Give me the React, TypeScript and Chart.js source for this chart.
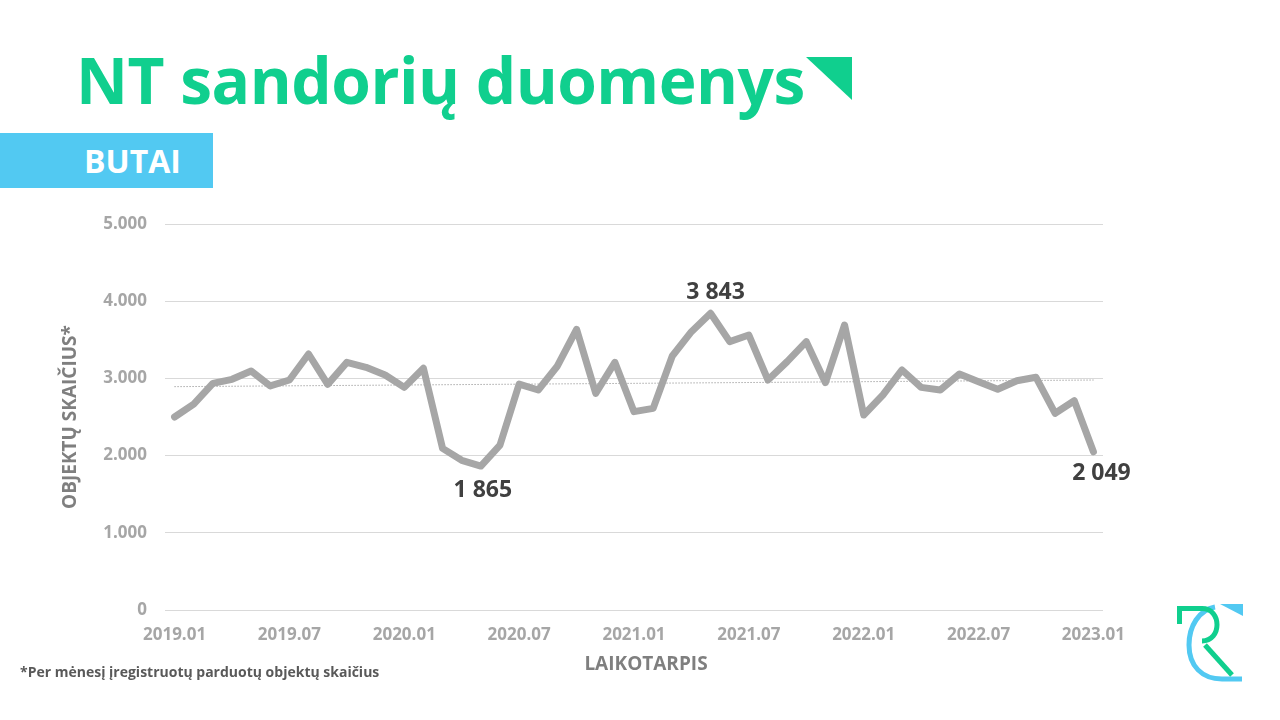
import React, { useEffect, useRef } from "react";
import { Chart, registerables } from "chart.js";

Chart.register(...registerables);

// ---- Data ----
const months: string[] = [
  "2019.01", "2019.02", "2019.03", "2019.04", "2019.05", "2019.06", "2019.07", "2019.08", "2019.09", "2019.10", "2019.11", "2019.12",
  "2020.01", "2020.02", "2020.03", "2020.04", "2020.05", "2020.06", "2020.07", "2020.08", "2020.09", "2020.10", "2020.11", "2020.12",
  "2021.01", "2021.02", "2021.03", "2021.04", "2021.05", "2021.06", "2021.07", "2021.08", "2021.09", "2021.10", "2021.11", "2021.12",
  "2022.01", "2022.02", "2022.03", "2022.04", "2022.05", "2022.06", "2022.07", "2022.08", "2022.09", "2022.10", "2022.11", "2022.12",
  "2023.01",
];

const butaiSandoriai: number[] = [
  2500, 2668, 2936, 2988, 3096, 2902, 2979, 3316, 2923, 3208, 3143, 3044,
  2884, 3131, 2094, 1939, 1865, 2137, 2927, 2850, 3161, 3636, 2807, 3208,
  2569, 2612, 3290, 3605, 3843, 3476, 3562, 2979, 3217, 3476, 2945, 3692,
  2526, 2785, 3109, 2884, 2850, 3057, 2957, 2859, 2970, 3014, 2548, 2711,
  2049,
];

// trend line end values
const trendStart = 2893;
const trendEnd = 2979;

// points that carry a value label
const labeledIdx: number[] = [16, 28, 48];

const yMin = 0;
const yMax = 5000;
const yStep = 1000;
const xTickEvery = 6;

// ---- Styles ----
const GREEN = "#10cf8e";
const BLUE = "#52c9f2";
const FONT = "'Open Sans', 'DejaVu Sans', sans-serif";

const labelDx = [2, 5, 8];
const labelDy = [24, -21, 22];

const dotThousands = (v: number) => String(v).replace(/\B(?=(\d{3})+(?!\d))/g, ".");
const spaceThousands = (v: number) => String(v).replace(/\B(?=(\d{3})+(?!\d))/g, " ");

const pointLabelPlugin = {
  id: "pointLabels",
  afterDatasetsDraw(chart: any) {
    const meta = chart.getDatasetMeta(0);
    const ctx = chart.ctx;
    ctx.save();
    ctx.font = `bold 23px ${FONT}`;
    ctx.fillStyle = "#404040";
    ctx.textAlign = "center";
    ctx.textBaseline = "middle";
    labeledIdx.forEach((idx, k) => {
      const p = meta.data[idx];
      if (!p) return;
      ctx.fillText(spaceThousands(butaiSandoriai[idx]), p.x + labelDx[k], p.y + labelDy[k]);
    });
    ctx.restore();
  },
};

function Logo() {
  return (
    <svg
      width={90}
      height={100}
      viewBox="1165 595 90 100"
      style={{ position: "absolute", left: 1165, top: 595 }}
    >
      {/* blue corner triangle */}
      <polygon points="1220,604 1243,604 1243,616" fill={BLUE} />
      {/* blue C */}
      <path
        d="M1215,607 C1199,610 1189,626 1189,645 C1189,666 1202,679 1222,679 L1242,679"
        fill="none"
        stroke={BLUE}
        strokeWidth={5}
      />
      {/* green R */}
      <path
        d="M1179.5,624 V608.5 H1202 C1222,608.5 1222,641 1202,641"
        fill="none"
        stroke={GREEN}
        strokeWidth={5}
      />
      <path d="M1205,645 L1232,675" fill="none" stroke={GREEN} strokeWidth={5} />
    </svg>
  );
}

export default function App() {
  const canvasRef = useRef<HTMLCanvasElement | null>(null);

  useEffect(() => {
    if (!canvasRef.current) return;
    const chart = new Chart(canvasRef.current, {
      type: "line",
      data: {
        labels: months,
        datasets: [
          {
            label: "Butai",
            data: butaiSandoriai,
            borderColor: "#a6a6a6",
            borderWidth: 7,
            borderJoinStyle: "round",
            borderCapStyle: "round",
            pointRadius: 0,
            tension: 0,
            fill: false,
            order: 1,
          },
          {
            label: "Trend",
            data: [
              { x: months[0], y: trendStart },
              { x: months[months.length - 1], y: trendEnd },
            ] as any,
            borderColor: "#7f7f7f",
            borderWidth: 1,
            borderDash: [1, 2],
            pointRadius: 0,
            fill: false,
            order: 2,
          },
        ],
      },
      options: {
        responsive: false,
        animation: false,
        layout: { padding: { left: 55, right: 177, top: 224, bottom: 40 } },
        plugins: {
          legend: { display: false },
          tooltip: { enabled: false },
        },
        scales: {
          x: {
            type: "category",
            offset: true,
            grid: { display: false, drawTicks: false },
            border: { display: false },
            ticks: {
              autoSkip: false,
              maxRotation: 0,
              padding: 15,
              color: "#a6a6a6",
              font: { family: FONT, size: 17, weight: "bold" },
              callback: (_v: any, i: number) => (i % xTickEvery === 0 ? months[i] : ""),
            },
            title: { display: false },
            afterFit: (s: any) => {
              s.height = 70;
            },
          },
          y: {
            min: yMin,
            max: yMax,
            ticks: {
              stepSize: yStep,
              padding: 18,
              color: "#a6a6a6",
              font: { family: FONT, size: 17, weight: "bold" },
              callback: (v: any) => dotThousands(Number(v)),
            },
            grid: { color: "#d9d9d9", lineWidth: 1, drawTicks: false },
            border: { display: false },
            title: {
              display: true,
              text: "OBJEKTŲ SKAIČIUS*",
              color: "#7f7f7f",
              font: { family: FONT, size: 19, weight: "bold" },
              padding: { top: 4, bottom: 0 },
            },
            afterFit: (s: any) => {
              s.width = 110;
            },
          },
        },
      },
      plugins: [pointLabelPlugin],
    } as any);
    return () => chart.destroy();
  }, []);

  return (
    <div
      style={{
        position: "fixed",
        left: 0,
        top: 0,
        width: 1280,
        height: 720,
        background: "#ffffff",
        overflow: "hidden",
        fontFamily: FONT,
      }}
    >
      <div
        style={{
          position: "absolute",
          left: 76,
          top: 48,
          fontSize: 64,
          lineHeight: "64px",
          fontWeight: 700,
          color: GREEN,
          whiteSpace: "nowrap",
          letterSpacing: -0.5,
        }}
      >
        NT sandorių duomenys
      </div>
      <svg width={46} height={43} style={{ position: "absolute", left: 806, top: 57 }}>
        <polygon points="0,0 46,0 46,43" fill={GREEN} />
      </svg>
      <div
        style={{
          position: "absolute",
          left: 0,
          top: 133,
          width: 213,
          height: 55,
          background: BLUE,
        }}
      />
      <div
        style={{
          position: "absolute",
          left: 84,
          top: 133,
          height: 55,
          lineHeight: "55px",
          fontSize: 32,
          fontWeight: 700,
          color: "#ffffff",
        }}
      >
        BUTAI
      </div>
      <canvas
        ref={canvasRef}
        width={1280}
        height={720}
        style={{ position: "absolute", left: 0, top: 0, width: 1280, height: 720 }}
      />
      <div
        style={{
          position: "absolute",
          left: 546,
          width: 200,
          top: 651,
          textAlign: "center",
          fontSize: 19,
          lineHeight: "24px",
          fontWeight: 700,
          color: "#7f7f7f",
          whiteSpace: "nowrap",
        }}
      >
        LAIKOTARPIS
      </div>
      <div
        style={{
          position: "absolute",
          left: 20,
          top: 662,
          fontSize: 14,
          lineHeight: "20px",
          fontWeight: 700,
          color: "#595959",
          whiteSpace: "nowrap",
        }}
      >
        *Per mėnesį įregistruotų parduotų objektų skaičius
      </div>
      <Logo />
    </div>
  );
}
